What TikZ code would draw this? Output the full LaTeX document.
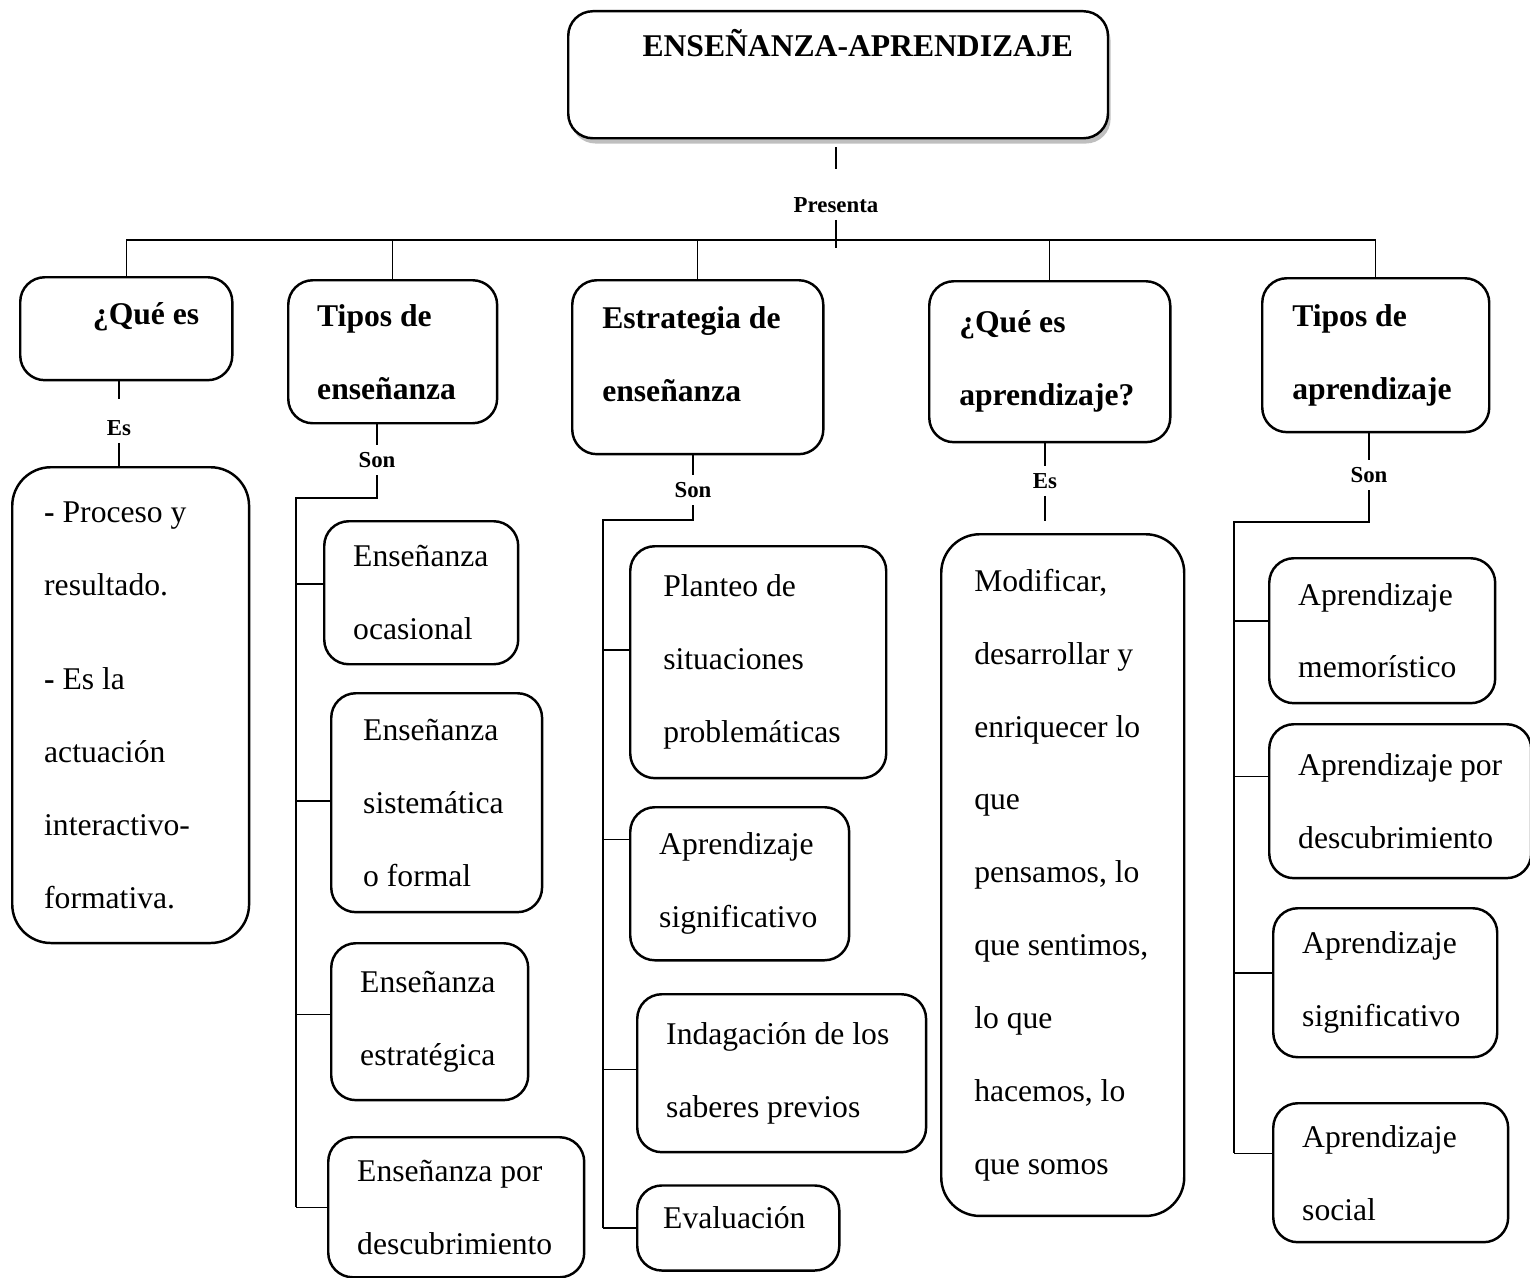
\documentclass[tikz,border=0pt]{standalone}
\usepackage{fontspec}
\setmainfont{Liberation Serif}
\usetikzlibrary{shadows}

\begin{document}
\begin{tikzpicture}[x=0.02cm,y=-0.02cm]
\tikzstyle{every node}+=[inner sep=0pt]
\tikzstyle{caja}=[draw, line width=1.4pt, rounded corners=14pt, anchor=north west, align=flush left, fill=white, font=\fontsize{18}{41.5}\selectfont]
\tikzstyle{titulo}=[caja, font=\fontsize{18}{41.5}\selectfont\bfseries]
\tikzstyle{enlace}=[font=\fontsize{13}{15}\selectfont\bfseries, inner sep=4pt]
\tikzstyle{linea}=[line width=0.7pt]
\useasboundingbox (0,0) rectangle (1530,1277);
% cabeceras
\node[titulo, align=flush right, text width=267.4pt, inner xsep=19.9pt, minimum height=72.3pt, text height=12pt, text depth=33pt, drop shadow={shadow xshift=1.5pt, shadow yshift=-3pt, opacity=0.5}] (top) at (567,10) {ENSEÑANZA-APRENDIZAJE};
\node[titulo, align=flush right, text width=83.1pt, inner xsep=18.8pt, minimum height=58.6pt, text height=13pt, text depth=18pt] (qes) at (19,276) {¿Qué es};
\node[titulo, text width=85.9pt, inner xsep=16.5pt, minimum height=81.4pt] (ten) at (287,279) {Tipos de\\ enseñanza};
\node[titulo, text width=108.7pt, inner xsep=17.1pt, minimum height=99pt, text height=12.3pt, text depth=56pt] (est) at (571,279) {Estrategia de\\ enseñanza};
\node[titulo, text width=103pt, inner xsep=17.1pt, minimum height=91.6pt] (qap) at (928,280) {¿Qué es\\ aprendizaje?};
\node[titulo, text width=95pt, inner xsep=17.1pt, minimum height=87.6pt] (tap) at (1261,277) {Tipos de\\ aprendizaje};
% cajas
\node[caja, rounded corners=22pt, text width=98.4pt, inner xsep=18.2pt, minimum height=270.8pt] (proc) at (11,466) {\textbf{-} Proceso y\\ resultado.\\[12pt] \textbf{-} Es la\\ actuación\\ interactivo-\\ formativa.};
\node[caja, text width=77.4pt, inner xsep=16.5pt, minimum height=81.4pt] (ocas) at (323,520) {Enseñanza\\ ocasional};
\node[caja, text width=83.6pt, inner xsep=18.2pt, minimum height=124.6pt] (sist) at (330,692) {Enseñanza\\ sistemática\\ o formal};
\node[caja, text width=79.1pt, inner xsep=16.5pt, minimum height=89.3pt] (estr) at (330,942) {Enseñanza\\ estratégica};
\node[caja, text width=112.7pt, inner xsep=16.5pt, minimum height=79.7pt] (edes) at (327,1136) {Enseñanza~por\\ descubrimiento};
\node[caja, text width=108.1pt, inner xsep=18.8pt, minimum height=132pt] (plan) at (629,545) {Planteo de\\ situaciones\\ problemáticas};
\node[caja, text width=91.6pt, inner xsep=16.5pt, minimum height=87.1pt] (sig1) at (629,806) {Aprendizaje\\ significativo};
\node[caja, text width=131.4pt, inner xsep=16.5pt, minimum height=89.9pt] (inda) at (636,993) {Indagación~de~los\\ saberes previos};
\node[caja, anchor=base west, text width=85.4pt, inner xsep=14.8pt, minimum height=48.4pt, text height=13pt, text depth=13pt] (eval) at (636,1228) {Evaluación};
\node[caja, rounded corners=22pt, text width=100.7pt, inner xsep=18.8pt, minimum height=388pt] (modi) at (940,533) {Modificar,\\ desarrollar~y\\ enriquecer~lo\\ que\\ pensamos,~lo\\ que~sentimos,\\ lo que\\ hacemos,~lo\\ que somos};
\node[caja, text width=95.6pt, inner xsep=16.5pt, minimum height=82.5pt] (amem) at (1268,557) {Aprendizaje\\ memorístico};
\node[caja, text width=116.1pt, inner xsep=16.5pt, minimum height=87.6pt] (ades) at (1268,723) {Aprendizaje~por\\ descubrimiento};
\node[caja, text width=94.5pt, inner xsep=16.5pt, minimum height=84.8pt] (sig2) at (1272,907) {Aprendizaje\\ significativo};
\node[caja, text width=100.7pt, inner xsep=16.5pt, minimum height=79.1pt] (asoc) at (1272,1102) {Aprendizaje\\ social};
% enlaces
\node[enlace] (pres) at (836,205) {Presenta};
\node[enlace] (es1) at (119,428) {Es};
\node[enlace] (son1) at (377,460) {Son};
\node[enlace] (son2) at (693,490) {Son};
\node[enlace] (es2) at (1045,481) {Es};
\node[enlace] (son3) at (1369,475) {Son};
\coordinate (bus) at (838,240);
\coordinate (r2) at (296,498);
\coordinate (r3) at (603,520);
\coordinate (r5) at (1234,522);
\coordinate (r5b) at ([yshift=11pt]asoc.west);
\draw[linea, shorten <=4.5pt, shorten >=12pt] (pres |- top.south) -- (pres.north);
\draw[linea] (pres.south) -- ([yshift=-4.5pt]pres |- bus);
\draw[linea] (qes.north |- bus) -- (tap.north |- bus);
\foreach \b in {qes,ten,est,qap,tap}
  \draw[linea] (\b.north |- bus) -- (\b.north);
\draw[linea, shorten >=8pt] (es1 |- qes.south) -- (es1.north);
\draw[linea] (es1.south) -- (es1 |- proc.north);
\draw[linea] (son1 |- ten.south) -- (son1.north);
\draw[linea] (son1.south) |- (r2) -- (r2 |- edes.west);
\foreach \b/\d in {ocas/5pt,sist/1pt,estr/4pt,edes/0pt}{
  \coordinate (p) at ([yshift=\d]\b.west);
  \draw[linea] (r2 |- p) -- (p);
}
\draw[linea] (son2 |- est.south) -- (son2.north);
\draw[linea] (son2.south) |- (r3) -- (r3 |- eval.west);
\foreach \b/\d in {plan/7pt,sig1/25pt,inda/2pt,eval/0pt}{
  \coordinate (p) at ([yshift=\d]\b.west);
  \draw[linea] (r3 |- p) -- (p);
}
\draw[linea] (es2 |- qap.south) -- (es2.north);
\draw[linea, shorten >=7pt] (es2.south) -- (es2 |- modi.north);
\draw[linea] (son3 |- tap.south) -- (son3.north);
\draw[linea] (son3.south) |- (r5) -- (r5 |- r5b);
\foreach \b/\d in {amem/5.5pt,ades/14pt,sig2/5.5pt,asoc/11pt}{
  \coordinate (p) at ([yshift=\d]\b.west);
  \draw[linea] (r5 |- p) -- (p);
}
\end{tikzpicture}
\end{document}
